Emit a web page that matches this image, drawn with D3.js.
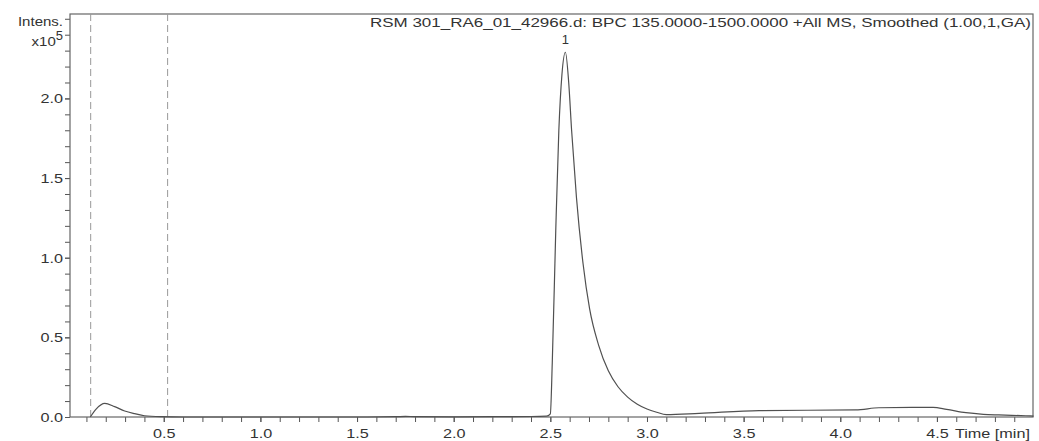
<!DOCTYPE html>
<html>
<head>
<meta charset="utf-8">
<script src="https://cdn.jsdelivr.net/npm/d3@7"></script>
<style>
  body { margin: 0; background: #fff; }
  text { font-family: "Liberation Sans", Arial, sans-serif; fill: #333; }
</style>
</head>
<body>
<svg id="chart" width="1039" height="441"></svg>
<script>
// chromatogram trace: retention time [min], intensity [x10^5]
const times = [0.12, 0.15, 0.195, 0.246, 0.298, 0.35, 0.40, 0.49, 0.6, 1.0, 1.5, 1.7, 1.75, 1.8, 2.0, 2.2, 2.4, 2.48, 2.50,
  2.51, 2.528, 2.544, 2.56, 2.578, 2.595, 2.61, 2.635, 2.669, 2.703, 2.75, 2.80, 2.85, 2.90, 2.95, 3.0, 3.05, 3.1,
  3.27, 3.58, 4.08, 4.2, 4.37, 4.48, 4.55, 4.65, 4.74, 4.82, 4.96, 5.0];
const intensity = [0.0, 0.05, 0.086, 0.065, 0.038, 0.021, 0.008, 0.002, 0.0, 0.0, 0.0, 0.002, 0.004, 0.002, 0.001, 0.002, 0.003, 0.005, 0.02,
  0.34, 1.17, 1.80, 2.15, 2.29, 2.1, 1.80, 1.38, 0.965, 0.68, 0.45, 0.29, 0.19, 0.125, 0.08, 0.05, 0.03, 0.015,
  0.023, 0.04, 0.045, 0.058, 0.061, 0.06, 0.048, 0.027, 0.017, 0.013, 0.008, 0.006];

const dashedMarks = [0.122, 0.52];
const xLabels = [0.5, 1.0, 1.5, 2.0, 2.5, 3.0, 3.5, 4.0, 4.5];
const yLabels = [0.0, 0.5, 1.0, 1.5, 2.0];
const peakLabels = [{t: 2.578, v: 2.29, name: "1"}];
const title = "RSM 301_RA6_01_42966.d: BPC 135.0000-1500.0000 +All MS, Smoothed (1.00,1,GA)";

const margin = {top: 14, right: 6, bottom: 24, left: 70};
const W = 1039, H = 441;
const plotW = W - margin.left - margin.right;
const plotH = H - margin.top - margin.bottom;
const stretch = 1.2; // the source picture is a bit wide

const svg = d3.select("#chart");
const g = svg.append("g").attr("transform", `translate(${margin.left},${margin.top})`);

const x = d3.scaleLinear().domain([0.015, 4.997]).range([0, plotW]);
const y = d3.scaleLinear().domain([0, 2.53]).range([plotH, 0]);

// minor ticks every 0.1
const xMinor = d3.range(1, 50).map(d => d / 10);
const yMinor = d3.range(0, 26).map(d => d / 10);

function widen(sel) {
  sel.each(function() {
    const len = this.getComputedTextLength();
    d3.select(this).attr("textLength", len * stretch).attr("lengthAdjust", "spacingAndGlyphs");
  });
}

const xAxis = g.append("g").attr("transform", `translate(0,${plotH})`)
  .call(d3.axisBottom(x).tickValues(xMinor).tickSize(5).tickFormat(""));
xAxis.select(".domain").remove();
xAxis.selectAll("line").attr("stroke", "#555");

const xLab = g.append("g").attr("transform", `translate(0,${plotH})`)
  .call(d3.axisBottom(x).tickValues(xLabels).tickSize(5).tickFormat(d3.format(".1f")));
xLab.select(".domain").remove();
xLab.selectAll("line").attr("stroke", "#555");
xLab.selectAll("text").attr("font-size", 13.5).attr("dy", 0).attr("y", 21)
  .attr("font-family", "Liberation Sans, Arial, sans-serif").attr("fill", "#333");

const yAxis = g.append("g")
  .call(d3.axisLeft(y).tickValues(yMinor).tickSize(5).tickFormat(""));
yAxis.select(".domain").remove();
yAxis.selectAll("line").attr("stroke", "#555");

const yLab = g.append("g")
  .call(d3.axisLeft(y).tickValues(yLabels).tickSize(5).tickFormat(d3.format(".1f")));
yLab.select(".domain").remove();
yLab.selectAll("line").attr("stroke", "#555");
yLab.selectAll("text").attr("font-size", 13.5).attr("x", -7)
  .attr("font-family", "Liberation Sans, Arial, sans-serif").attr("fill", "#333");

// frame
g.append("rect").attr("x", 0).attr("y", 0).attr("width", plotW).attr("height", plotH)
  .attr("fill", "none").attr("stroke", "#666").attr("stroke-width", 1.2);

// dashed markers
g.selectAll(".dash").data(dashedMarks).enter().append("line")
  .attr("x1", d => x(d)).attr("x2", d => x(d))
  .attr("y1", 0).attr("y2", plotH)
  .attr("stroke", "#999").attr("stroke-width", 1).attr("stroke-dasharray", "7,4");

// trace
const pts = times.map((t, i) => [t, intensity[i]]);
g.append("path").datum(pts)
  .attr("fill", "none").attr("stroke", "#505050").attr("stroke-width", 1.2)
  .attr("d", d3.line().x(d => x(d[0])).y(d => y(d[1])).curve(d3.curveMonotoneX));

// peak labels
g.selectAll(".pk").data(peakLabels).enter().append("text")
  .attr("x", d => x(d.t)).attr("y", d => y(d.v) - 8)
  .attr("text-anchor", "middle").attr("font-size", 13).text(d => d.name);

// titles
g.append("text").attr("x", plotW - 2).attr("y", 13).attr("text-anchor", "end")
  .attr("font-size", 13.5).attr("textLength", 661).attr("lengthAdjust", "spacingAndGlyphs")
  .text(title);

svg.append("text").attr("x", 63).attr("y", 26).attr("text-anchor", "end")
  .attr("font-size", 12.5).attr("class", "wide").text("Intens.");
const ex = svg.append("text").attr("x", 63).attr("y", 46).attr("text-anchor", "end").attr("font-size", 12.5);
ex.append("tspan").attr("class", "wide").text("x10");
ex.append("tspan").attr("dy", -6).attr("font-size", 13).text("5");

svg.append("text").attr("x", 1030).attr("y", plotH + margin.top + 21).attr("text-anchor", "end")
  .attr("font-size", 13.5).attr("class", "wide").text("Time [min]");

widen(xLab.selectAll("text"));
widen(yLab.selectAll("text"));
widen(svg.selectAll("text.wide"));
widen(svg.selectAll("tspan.wide"));
</script>
</body>
</html>
